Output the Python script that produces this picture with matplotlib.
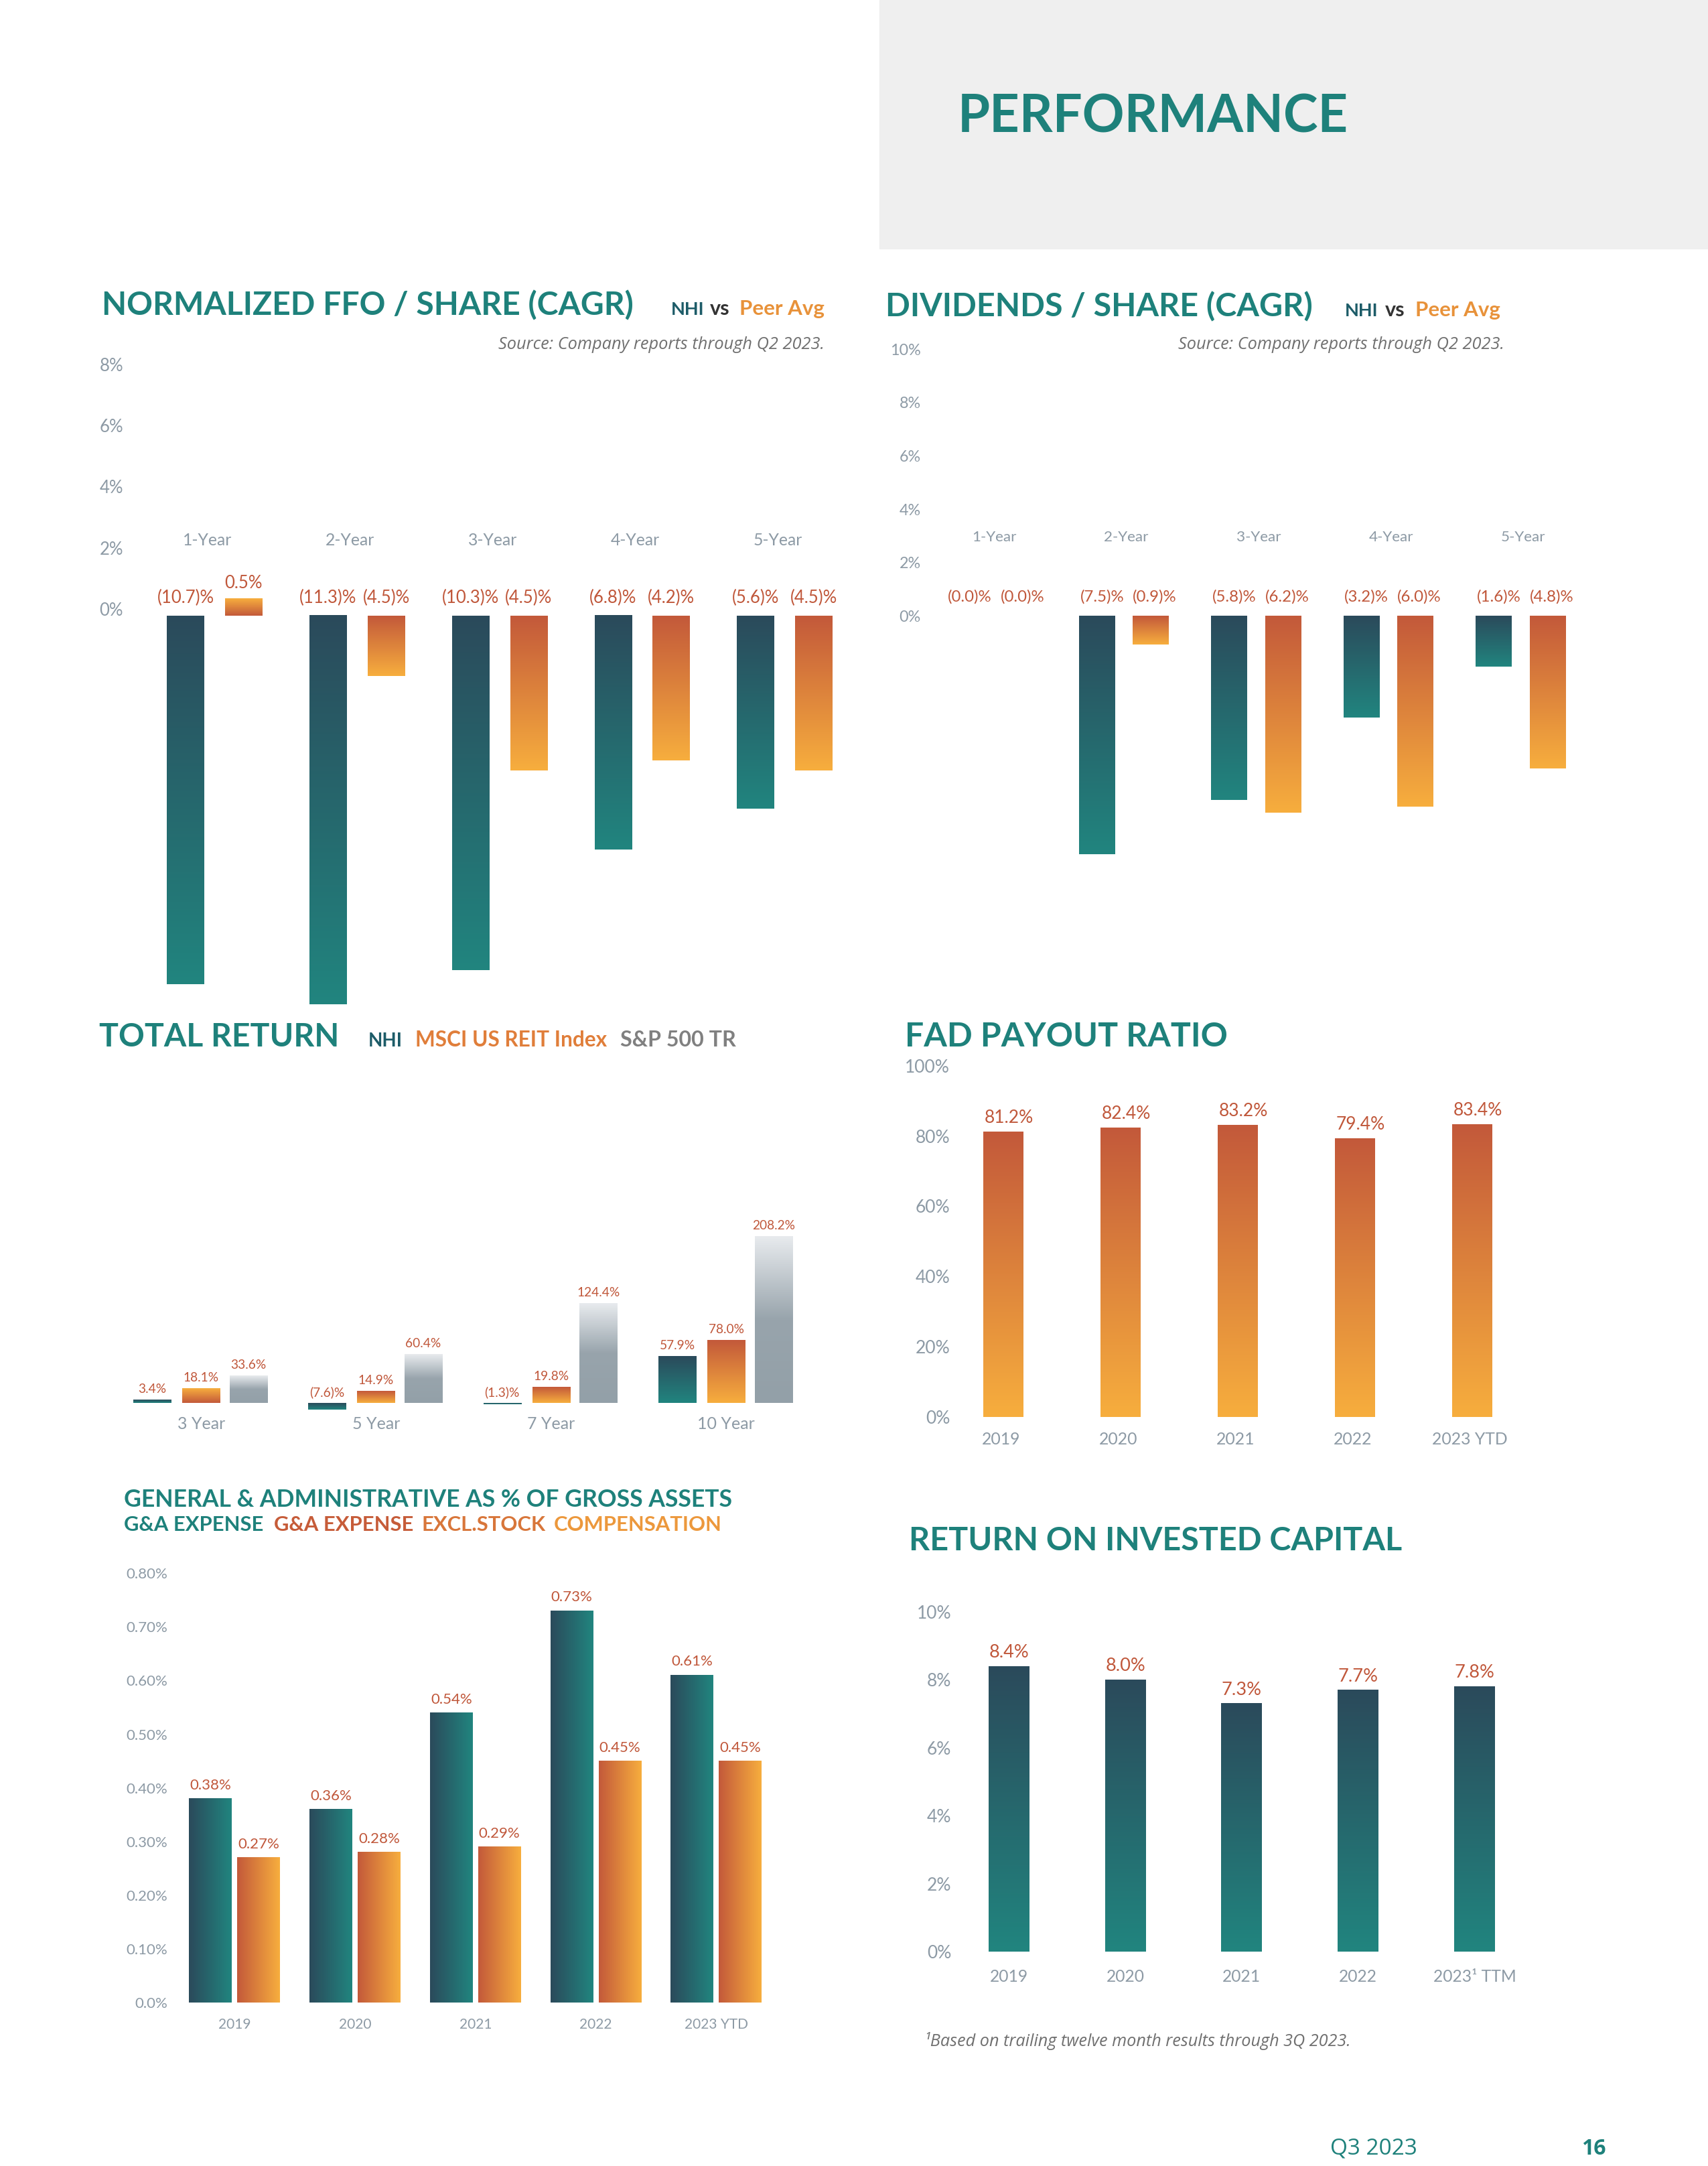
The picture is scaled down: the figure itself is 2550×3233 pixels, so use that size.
import numpy as np
import matplotlib.pyplot as plt
from matplotlib.colors import LinearSegmentedColormap
from matplotlib.patches import Rectangle

plt.rcParams['font.family'] = ['Lato', 'DejaVu Sans']

# ============================================================
# 数据
# ============================================================
cagr_cats = ['1-Year', '2-Year', '3-Year', '4-Year', '5-Year']

# Normalized FFO / share (CAGR)
ffo_nhi = [-10.7, -11.3, -10.3, -6.8, -5.6]
ffo_peer = [0.5, -1.75, -4.5, -4.2, -4.5]          # 2-Year bar is drawn short in the source
ffo_nhi_lbl = ['(10.7)%', '(11.3)%', '(10.3)%', '(6.8)%', '(5.6)%']
ffo_peer_lbl = ['0.5%', '(4.5)%', '(4.5)%', '(4.2)%', '(4.5)%']
ffo_ticks = [0, 2, 4, 6, 8]

# Dividends / share (CAGR)
div_nhi = [0.0, -7.5, -5.8, -3.2, -1.6]
div_peer = [0.0, -0.9, -6.2, -6.0, -4.8]
div_nhi_lbl = ['(0.0)%', '(7.5)%', '(5.8)%', '(3.2)%', '(1.6)%']
div_peer_lbl = ['(0.0)%', '(0.9)%', '(6.2)%', '(6.0)%', '(4.8)%']
div_ticks = [0, 2, 4, 6, 8, 10]

# Total return
tr_cats = ['3 Year', '5 Year', '7 Year', '10 Year']
tr_nhi = [3.4, -7.6, -1.3, 57.9]
tr_reit = [18.1, 14.9, 19.8, 78.0]
tr_sp = [33.6, 60.4, 124.4, 208.2]
tr_nhi_lbl = ['3.4%', '(7.6)%', '(1.3)%', '57.9%']
tr_reit_lbl = ['18.1%', '14.9%', '19.8%', '78.0%']
tr_sp_lbl = ['33.6%', '60.4%', '124.4%', '208.2%']

# FAD payout ratio
fad_years = ['2019', '2020', '2021', '2022', '2023 YTD']
fad_vals = [81.2, 82.4, 83.2, 79.4, 83.4]
fad_ticks = [0, 20, 40, 60, 80, 100]

# G&A as % of gross assets
ga_years = ['2019', '2020', '2021', '2022', '2023 YTD']
ga_total = [0.38, 0.36, 0.54, 0.73, 0.61]
ga_excl = [0.27, 0.28, 0.29, 0.45, 0.45]
ga_ticks = [0.0, 0.1, 0.2, 0.3, 0.4, 0.5, 0.6, 0.7, 0.8]
ga_tick_lbl = ['0.0%', '0.10%', '0.20%', '0.30%', '0.40%', '0.50%', '0.60%', '0.70%', '0.80%']

# Return on invested capital
roic_years = ['2019', '2020', '2021', '2022', '2023¹ TTM']
roic_vals = [8.4, 8.0, 7.3, 7.7, 7.8]
roic_ticks = [0, 2, 4, 6, 8, 10]

# ============================================================
# 颜色
# ============================================================
TEAL_T = '#1E817B'
NHI_C = '#1D5C68'
DARK_B = '#2B4A5B'
TEAL_B = '#21857F'
RED = '#C3593A'
YEL = '#F7AE3E'
GRAY_B = '#93A0A8'
GRAY_L = '#E8EBEE'
VAL = '#C0573A'
TICK = '#8D9AA5'
SRC = '#707070'
PEER = '#E8923A'
ITAL = ['Open Sans', 'DejaVu Sans']

W, H = 1237.0, 1568.3      # 参考缩略图坐标系（对应 2550x3233）

fig = plt.figure(figsize=(25.5, 32.33), dpi=100)
fig.patch.set_facecolor('white')


def fx(x):
    return x / W


def fy(y):
    return 1 - y / H


def txt(x, y, s, size, color, weight='normal', ha='left', va='baseline', style='normal', family=None):
    kw = {'family': family} if family else {}
    return fig.text(fx(x), fy(y), s, fontsize=size, color=color, fontweight=weight,
                    ha=ha, va=va, style=style, **kw)


def panel(xa, xb, yt, yb, c0, sp, yz, k):
    """放置坐标轴：类别 0 的中心在 c0，间距 sp；数值 0 在 yz，每单位 k 像素"""
    ax = fig.add_axes([fx(xa), fy(yb), (xb - xa) / W, (yb - yt) / H])
    ax.set_xlim((xa - c0) / sp, (xb - c0) / sp)
    ax.set_ylim((yz - yb) / k, (yz - yt) / k)
    for s in ax.spines.values():
        s.set_visible(False)
    ax.set_xticks([])
    ax.set_yticks([])
    ax.tick_params(axis='y', length=0, labelcolor=TICK)
    ax.patch.set_alpha(0)
    return ax


def grad_bars(ax, x, vals, width, stops, flip=(), horiz=False):
    """渐变柱：stops 为 底→顶（或 左→右）的颜色"""
    bars = ax.bar(x, vals, width, color='none', linewidth=0)
    xl, yl = ax.get_xlim(), ax.get_ylim()
    for i, b in enumerate(bars):
        h = b.get_height()
        if h == 0:
            continue
        x0, w, y0 = b.get_x(), b.get_width(), b.get_y()
        lo, hi = sorted([y0, y0 + h])
        st = stops[::-1] if i in flip else stops
        cmap = LinearSegmentedColormap.from_list('g', st)
        g = np.linspace(0, 1, 256)
        grad = g.reshape(1, -1) if horiz else g.reshape(-1, 1)
        ax.imshow(grad, cmap=cmap, extent=[x0, x0 + w, lo, hi], origin='lower',
                  aspect='auto', interpolation='bilinear', zorder=2)
    ax.set_xlim(xl)
    ax.set_ylim(yl)
    return bars


# ---------------- 页眉 ----------------
fig.add_artist(Rectangle((fx(637), fy(180)), 1 - fx(637), 180 / H,
                         transform=fig.transFigure, color='#EFEFEF', zorder=0))
txt(693.7, 95.7, 'PERFORMANCE', 56, TEAL_T, weight='bold')

# ============================================================
# 1 Normalized FFO / share
# ============================================================
txt(73.7, 228, 'NORMALIZED FFO / SHARE (CAGR)', 34.7, TEAL_T, weight='bold')
txt(485.9, 228, 'NHI', 19.5, NHI_C, weight='bold')
txt(514, 228, 'vs', 22, '#333333', weight='bold')
txt(535.5, 228, 'Peer Avg', 22.5, PEER, weight='bold')
txt(597, 252.8, 'Source: Company reports through Q2 2023.', 18.3, SRC, ha='right',
    style='italic', family=ITAL)

ax1 = panel(95, 640, 240, 735, 155.5, 103.2, 446, 24.9)
x = np.arange(len(cagr_cats))
grad_bars(ax1, x - 0.204, ffo_nhi, 0.262, [TEAL_B, DARK_B])
grad_bars(ax1, x + 0.204, ffo_peer, 0.262, [YEL, RED], flip={0})
# source axis labels are not to scale with the bars
ax1.set_yticks(np.array(ffo_ticks) * 0.89 + 0.2, [f'{t}%' for t in ffo_ticks])
ax1.tick_params(axis='y', pad=8.6, labelsize=18.5)
for i, c in enumerate(cagr_cats):
    ax1.text(i - 0.05, 2.2, c, ha='center', va='center', fontsize=17.8, color=TICK)
for i in range(len(cagr_cats)):
    ax1.text(i - 0.204, 0.52, ffo_nhi_lbl[i], ha='center', va='center', fontsize=18.5, color=VAL)
    yv = 0.52 if ffo_peer[i] <= 0 else ffo_peer[i] + 0.46
    ax1.text(i + 0.204, yv, ffo_peer_lbl[i], ha='center', va='center', fontsize=18.5, color=VAL)

# ============================================================
# 2 Dividends / share
# ============================================================
txt(641.4, 229, 'DIVIDENDS / SHARE (CAGR)', 34.9, TEAL_T, weight='bold')
txt(974, 229, 'NHI', 19.5, NHI_C, weight='bold')
txt(1003, 229, 'vs', 22, '#333333', weight='bold')
txt(1025, 229, 'Peer Avg', 22.5, PEER, weight='bold')
txt(1089.4, 252.8, 'Source: Company reports through Q2 2023.', 18.3, SRC, ha='right',
    style='italic', family=ITAL)

ax2 = panel(675, 1160, 240, 635, 718, 95.8, 446, 23)
grad_bars(ax2, x - 0.204, div_nhi, 0.27, [TEAL_B, DARK_B])
grad_bars(ax2, x + 0.204, div_peer, 0.27, [YEL, RED])
ax2.set_yticks(np.array(div_ticks) * 0.84, [f'{t}%' for t in div_ticks])
ax2.tick_params(axis='y', pad=11.9, labelsize=16.8)
for i, c in enumerate(cagr_cats):
    ax2.text(i + 0.02, 2.48, c, ha='center', va='center', fontsize=16.2, color=TICK)
    ax2.text(i - 0.204 + 0.04, 0.61, div_nhi_lbl[i], ha='center', va='center', fontsize=17.3, color=VAL)
    ax2.text(i + 0.204 + 0.03, 0.61, div_peer_lbl[i], ha='center', va='center', fontsize=17.3, color=VAL)

# ============================================================
# 3 Total return
# ============================================================
txt(72, 757.9, 'TOTAL RETURN', 34.7, TEAL_T, weight='bold')
txt(266.6, 757.9, 'NHI', 20, NHI_C, weight='bold')
txt(300.8, 757.9, 'MSCI US REIT Index', 22.8, '#E07E3A', weight='bold')
txt(449.2, 757.9, 'S&P 500 TR', 23.2, '#808080', weight='bold')

ax3 = panel(55, 600, 860, 1045, 145.6, 126.8, 1016, 0.5785)
xt = np.arange(len(tr_cats))
grad_bars(ax3, xt - 0.28, tr_nhi, 0.215, [TEAL_B, DARK_B])
grad_bars(ax3, xt, tr_reit, 0.215, [YEL, RED], flip={0})
grad_bars(ax3, xt + 0.27, tr_sp, 0.215, [(0, GRAY_B), (0.5, '#98A4AC'), (1, GRAY_L)])
for off, vals, lbls in [(-0.28, tr_nhi, tr_nhi_lbl), (0, tr_reit, tr_reit_lbl), (0.27, tr_sp, tr_sp_lbl)]:
    for i, (v, l) in enumerate(zip(vals, lbls)):
        ax3.annotate(l, (i + off, max(v, 0)), xytext=(0, 12), textcoords='offset points',
                     ha='center', va='center', fontsize=13.8, color=VAL)
for i, c in enumerate(tr_cats):
    ax3.text(i, -25.9, c, ha='center', va='center', fontsize=18, color=TICK)

# ============================================================
# 4 FAD payout ratio
# ============================================================
txt(655.4, 757.5, 'FAD PAYOUT RATIO', 35.9, TEAL_T, weight='bold')
ax4 = panel(691, 1110, 765, 1032, 726.6, 84.9, 1025.8, 2.54)
xf = np.arange(len(fad_years))
grad_bars(ax4, xf, fad_vals, 0.34, [YEL, RED])
ax4.set_yticks(fad_ticks, [f'{t}%' for t in fad_ticks])
ax4.tick_params(axis='y', pad=4.5, labelsize=19)
for i, v in enumerate(fad_vals):
    ax4.annotate(f'{v:.1f}%', (i + 0.05, v), xytext=(0, 14.8), textcoords='offset points',
                 ha='center', va='center', fontsize=19, color=VAL)
    ax4.text(i - 0.02, -6.4, fad_years[i], ha='center', va='center', fontsize=17.8, color=TICK)

# ============================================================
# 5 G&A as % of gross assets
# ============================================================
txt(89.7, 1090.8, 'GENERAL & ADMINISTRATIVE AS % OF GROSS ASSETS', 25.6, TEAL_T, weight='bold')
txt(89.7, 1108.4, 'G&A EXPENSE', 22.3, TEAL_T, weight='bold')
r = fig.canvas.get_renderer()
xs = 198.3
for s, c in [('G&A EXPENSE', '#C65C39'), ('EXCL.STOCK', '#D8763A'), ('COMPENSATION', '#EC983C')]:
    t = txt(xs, 1108.4, s, 22.3, c, weight='bold')
    xs = t.get_window_extent(r).x1 / (2550 / W) + 6

ax5 = panel(126, 570, 1125, 1458, 169.9, 87.2, 1450, 388.6)
xg = np.arange(len(ga_years))
grad_bars(ax5, xg - 0.2, ga_total, 0.355, [DARK_B, TEAL_B], horiz=True)
grad_bars(ax5, xg + 0.2, ga_excl, 0.355, [RED, YEL], horiz=True)
ax5.set_yticks(ga_ticks, ga_tick_lbl)
ax5.tick_params(axis='y', pad=7, labelsize=16)
for off, vals in [(-0.2, ga_total), (0.2, ga_excl)]:
    for i, v in enumerate(vals):
        ax5.annotate(f'{v:.2f}%', (i + off, v), xytext=(0, 14.4), textcoords='offset points',
                     ha='center', va='center', fontsize=16, color=VAL)
for i, c in enumerate(ga_years):
    ax5.text(i, -0.041, c, ha='center', va='center', fontsize=15, color=TICK)

# ============================================================
# 6 ROIC
# ============================================================
txt(658.4, 1122.5, 'RETURN ON INVESTED CAPITAL', 34.9, TEAL_T, weight='bold')
ax6 = panel(693, 1112, 1155, 1420, 730.7, 84.3, 1413.1, 24.6)
xr = np.arange(len(roic_years))
grad_bars(ax6, xr, roic_vals, 0.35, [TEAL_B, DARK_B])
ax6.set_yticks(roic_ticks, [f'{t}%' for t in roic_ticks])
ax6.tick_params(axis='y', pad=6, labelsize=19)
for i, v in enumerate(roic_vals):
    ax6.annotate(f'{v:.1f}%', (i, v), xytext=(0, 14.8), textcoords='offset points',
                 ha='center', va='center', fontsize=19.5, color=VAL)
    ax6.text(i, -0.73, roic_years[i], ha='center', va='center', fontsize=17.7, color=TICK)
txt(669.3, 1481.4, '¹Based on trailing twelve month results through 3Q 2023.', 18.2, SRC,
    style='italic', family=ITAL)

# ---------------- 页脚 ----------------
txt(963.4, 1560, 'Q3 2023', 24, TEAL_T, family=['Open Sans', 'DejaVu Sans'])
txt(1145.5, 1560, '16', 23, TEAL_T, weight='bold', family=['Open Sans', 'DejaVu Sans'])

fig.savefig('out.png', dpi=100)
